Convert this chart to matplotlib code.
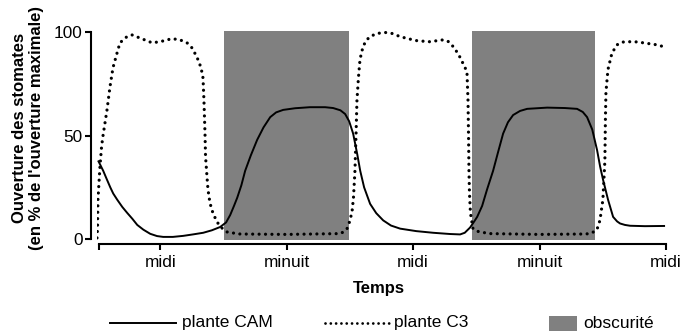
import matplotlib
matplotlib.use("Agg")
import matplotlib.pyplot as plt
from matplotlib.lines import Line2D
from matplotlib.patches import Rectangle

plt.rcParams['font.family'] = ['Liberation Sans', 'DejaVu Sans']

# Time in hours (6 h = start of the record, 12 h = midi, 24 h = minuit ...)
cam_t = [6.1, 6.3, 6.59, 6.88, 7.26, 7.54, 7.92, 8.4, 8.87, 9.35, 9.82,
         10.4, 11.05, 11.7, 12.28, 13.2, 14.18, 15.1, 16.08, 16.9, 17.69,
         18.25, 18.64, 19.0, 19.31, 19.7, 20.06, 20.6, 21.2, 21.8, 22.44,
         23.0, 23.67, 24.8, 26.2, 27.65, 28.41, 29.1, 29.55, 29.93, 30.31,
         30.7, 30.98, 31.35, 31.92, 32.5, 33.16, 33.9, 34.77, 36.3, 37.9,
         39.5, 40.46, 40.9, 41.4, 41.8, 42.08, 42.55, 43.02, 43.59, 44.06,
         44.54, 45.0, 45.49, 46.15, 46.82, 48.72, 50.4, 51.56, 52.1, 52.51,
         53.0, 53.46, 53.75, 54.03, 54.5, 54.98, 55.36, 55.64, 56.1, 56.59,
         58.0, 59.91]
cam_v = [38, 36, 33, 29.5, 25, 22, 19, 15.5, 12.6, 9.8, 6.8,
         4.5, 2.5, 1.4, 1, 1, 1.5, 2.2, 3, 4.2, 5.8,
         8, 11.6, 16, 20, 26, 33, 40.5, 48, 54, 59,
         61.3, 62.5, 63.3, 63.8, 63.8, 63.4, 62.3, 60.5, 57, 51,
         41, 33, 25, 17, 12.5, 9, 6.5, 5, 3.8, 3,
         2.4, 2.2, 3, 5.5, 8.5, 10.7, 16, 24, 33, 42,
         51, 56.5, 60, 62, 63, 63.6, 63.4, 63, 61.5, 59,
         53, 43, 35, 28.6, 19, 10.7, 8.5, 7.5, 6.8, 6.4,
         6.2, 6.3]

c3_t = [6.0, 6.05, 6.09, 6.28, 6.44, 6.57, 6.95, 7.23, 7.52, 7.9, 8.18,
        8.85, 9.32, 10.08, 11.22, 11.98, 13.12, 13.88, 14.54, 15.02, 15.49,
        15.87, 16.06, 16.15, 16.25, 16.3, 16.44, 16.53, 16.72, 17.0, 17.39,
        17.86, 18.34, 18.9, 19.57, 24.0, 29.06, 29.44, 29.73, 29.92, 30.1,
        30.2, 30.34, 30.48, 30.58, 30.67, 30.81, 30.96, 31.24, 31.53, 31.91,
        32.57, 33.33, 34.0, 34.76, 35.5, 36.37, 37.6, 38.26, 38.84, 39.22,
        39.5, 39.98, 40.45, 40.83, 41.11, 41.21, 41.26, 41.3, 41.35, 41.44,
        41.68, 42.06, 42.35, 43.3, 48.0, 52.3, 52.78, 53.16, 53.44, 53.73,
        54.01, 54.1, 54.2, 54.25, 54.3, 54.49, 54.87, 55.35, 55.82, 56.3,
        57.05, 57.82, 58.48, 59.15, 59.53, 59.91]
c3_v = [0.5, 5, 19, 35, 45, 50, 62.5, 73.6, 83, 90, 95,
        98, 98.8, 97.3, 95, 95.5, 97, 96.4, 95, 92.5, 88,
        83, 78, 67, 51, 40, 30, 24, 17.4, 12.6, 8.2,
        5.3, 3.4, 2.9, 2.4, 2.2, 2.6, 3.5, 5, 7.5, 11,
        13, 20, 33, 50, 67, 78, 87, 93, 96, 98,
        99.5, 100, 99.5, 98, 97, 96, 95.5, 96, 96.4, 96,
        95, 92, 88, 84, 81, 67, 50, 33, 22, 12.6,
        5, 3.8, 3.4, 2.6, 2.2, 2.4, 2.6, 3.5, 4.4, 9,
        19, 28, 38, 58, 71, 82, 90, 94, 95.3, 95.5,
        95.5, 95, 94.5, 94, 93.5, 92.5]

# Dark periods (start, end) in hours
dark_start = [18.05, 41.59]
dark_end = [29.92, 53.26]

xticks = [6.2, 12, 24, 36, 48, 60]
xticklabels = ['', 'midi', 'minuit', 'midi', 'minuit', 'midi']
yticks = [0, 50, 100]

GRAY = '#808080'
W, H = 700, 335
fig = plt.figure(figsize=(W / 100, H / 100), dpi=100)
ax = fig.add_axes([97 / W, 1 - 240 / H, 569 / W, 209 / H])
ax.set_xlim(6, 60)
ax.set_ylim(-0.5, 100.7)

for s, e in zip(dark_start, dark_end):
    ax.axvspan(s, e, ymin=0, ymax=1, color=GRAY, lw=0, zorder=1)

ax.plot(cam_t, cam_v, color='black', lw=1.4, solid_joinstyle='round',
        solid_capstyle='butt', zorder=3)
ax.plot(c3_t, c3_v, color='black', lw=2.3, linestyle=(0, (0.01, 2.0)),
        dash_capstyle='round', zorder=3)

for side in ('top', 'right'):
    ax.spines[side].set_visible(False)
ax.spines['left'].set_position(('outward', 4.3))
ax.spines['bottom'].set_position(('outward', 3.0))
ax.spines['left'].set_bounds(0, 100)
ax.spines['bottom'].set_bounds(6.2, 60)
for side in ('left', 'bottom'):
    ax.spines[side].set_linewidth(1.5)

ax.set_yticks(yticks)
ax.set_xticks(xticks)
ax.set_xticklabels(xticklabels)
ax.tick_params(axis='both', direction='out', length=4.5, width=1.5,
               labelsize=12.4, colors='black')
ax.tick_params(axis='y', pad=1.5)
ax.tick_params(axis='x', pad=3.5)

fig.text(28 / W, 1 - 128 / H,
         "Ouverture des stomates\n(en % de l'ouverture maximale)",
         rotation=90, ha='center', va='center', multialignment='center',
         fontsize=12, fontweight='bold')
fig.text(379 / W, 1 - 289 / H, 'Temps', ha='center', va='center',
         fontsize=12, fontweight='bold')

# Legend drawn in figure pixels
ly = 1 - 323 / H
fig.add_artist(Line2D([110 / W, 176 / W], [ly, ly], color='black', lw=1.4,
                      transform=fig.transFigure))
fig.text(182 / W, ly, 'plante CAM', ha='left', va='center', fontsize=12.5)
fig.add_artist(Line2D([325 / W, 390 / W], [ly, ly], color='black', lw=2.0,
                      linestyle=(0, (0.01, 1.9)), dash_capstyle='round',
                      transform=fig.transFigure))
fig.text(394 / W, ly, 'plante C3', ha='left', va='center', fontsize=12.5)
fig.add_artist(Rectangle((549 / W, 1 - 331 / H), 28 / W, 15 / H,
                         color=GRAY, lw=0, transform=fig.transFigure))
fig.text(583 / W, ly, 'obscurité', ha='left', va='center', fontsize=12.5)

fig.savefig('out.png', dpi=100)
